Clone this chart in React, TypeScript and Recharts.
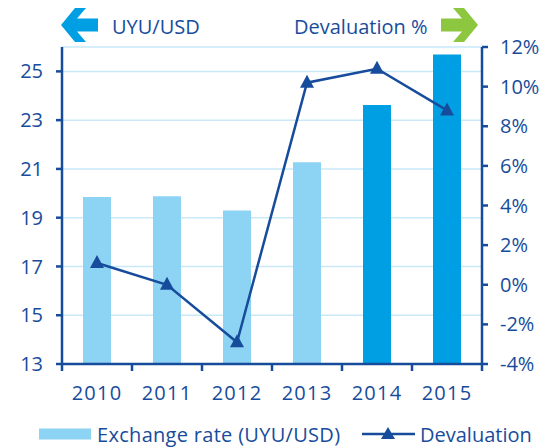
import React from "react";
import {
	ComposedChart,
	Bar,
	Line,
	Cell,
	XAxis,
	YAxis,
	CartesianGrid,
} from "recharts";

const years = ["2010", "2011", "2012", "2013", "2014", "2015"];
const exchangeRate = [19.85, 19.88, 19.29, 21.27, 23.62, 25.69];
const devaluation = [1.1, 0.0, -2.9, 10.2, 10.9, 8.8];
const rateTicks = [13, 15, 17, 19, 21, 23, 25];
const devalTicks = [-4, -2, 0, 2, 4, 6, 8, 10, 12];

const data = years.map((year, i) => ({
	year,
	rate: exchangeRate[i],
	deval: devaluation[i],
}));

const DARK = "#174c9c";
const LIGHT_BAR = "#8dd3f3";
const DARK_BAR = "#009fe3";
const GREEN = "#8dc63f";
const FONT = "'Open Sans', sans-serif";
const HALF_BAND = 35;

const Triangle = (props: any) => {
	const { cx, cy } = props;
	if (cx == null || cy == null) return null;
	return (
		<polygon
			points={`${cx},${cy - 8} ${cx - 7},${cy + 5} ${cx + 7},${cy + 5}`}
			fill={DARK}
		/>
	);
};

const YearTick = (props: any) => {
	const { x, y, payload, index, visibleTicksCount } = props;
	return (
		<g>
			<line x1={x - HALF_BAND} x2={x - HALF_BAND} y1={y} y2={y + 7} stroke={DARK} strokeWidth={2.5} />
			{index === visibleTicksCount - 1 && (
				<line x1={x + HALF_BAND} x2={x + HALF_BAND} y1={y} y2={y + 7} stroke={DARK} strokeWidth={2.5} />
			)}
			<text
				x={x}
				y={y + 28}
				textAnchor="middle"
				dominantBaseline="central"
				fill={DARK}
				fontSize={20}
				fontFamily={FONT}
				letterSpacing={1.2}
			>
				{payload.value}
			</text>
		</g>
	);
};

export default function App() {
	return (
		<div style={{ position: "absolute", left: 0, top: 0, width: 552, height: 448, background: "#fff", fontFamily: FONT }}>
			{/* header arrows + titles */}
			<svg width={552} height={50} style={{ position: "absolute", left: 0, top: 0 }}>
				<polygon
					points="61,25 75,8 86,8 77,18.5 98,18.5 98,31.5 77,31.5 86,42 75,42"
					fill={DARK_BAR}
				/>
				<text x={112} y={26} dominantBaseline="central" fill={DARK} fontSize={20} fontFamily={FONT}>
					UYU/USD
				</text>
				<text x={294} y={26} dominantBaseline="central" fill={DARK} fontSize={20} fontFamily={FONT}>
					Devaluation %
				</text>
				<polygon
					points="478,25 464,8 453,8 462,18.5 441,18.5 441,31.5 462,31.5 453,42 464,42"
					fill={GREEN}
				/>
			</svg>

			<ComposedChart
				width={552}
				height={448}
				data={data}
				margin={{ top: 47, right: 0, left: 0, bottom: 44 }}
				barCategoryGap={0}
			>
				<CartesianGrid yAxisId="left" vertical={false} stroke="#c9e9f8" strokeWidth={1.5} />
				<XAxis
					dataKey="year"
					height={40}
					axisLine={{ stroke: DARK, strokeWidth: 2.5 }}
					tickLine={false}
					tickSize={0}
					tickMargin={0}
					tick={<YearTick />}
					interval={0}
				/>
				<YAxis
					yAxisId="left"
					orientation="left"
					width={62}
					domain={[13, 26]}
					ticks={rateTicks}
					interval={0}
					axisLine={{ stroke: DARK, strokeWidth: 2.5 }}
					tickLine={{ stroke: DARK, strokeWidth: 2.5 }}
					tickSize={6}
					tickMargin={13}
					tick={{ fill: DARK, fontSize: 20, fontFamily: FONT }}
				/>
				<YAxis
					yAxisId="right"
					orientation="right"
					width={70}
					domain={[-4, 12]}
					ticks={devalTicks}
					interval={0}
					axisLine={{ stroke: DARK, strokeWidth: 2.5 }}
					tickLine={{ stroke: DARK, strokeWidth: 2.5 }}
					tickSize={6}
					tickMargin={12}
					tickFormatter={(v: number) => `${v}%`}
					tick={{ fill: DARK, fontSize: 20, fontFamily: FONT }}
				/>
				<Bar yAxisId="left" dataKey="rate" barSize={28} isAnimationActive={false}>
					{data.map((d, i) => (
						<Cell key={d.year} fill={i >= 4 ? DARK_BAR : LIGHT_BAR} />
					))}
				</Bar>
				<Line
					yAxisId="right"
					dataKey="deval"
					stroke={DARK}
					strokeWidth={2.5}
					dot={<Triangle />}
					activeDot={false}
					isAnimationActive={false}
				/>
			</ComposedChart>

			{/* legend */}
			<svg width={552} height={30} style={{ position: "absolute", left: 0, top: 419 }}>
				<rect x={39} y={9.5} width={52} height={11} fill={LIGHT_BAR} />
				<text x={97} y={15} dominantBaseline="central" fill={DARK} fontSize={20} fontFamily={FONT} letterSpacing={0.3}>
					Exchange rate (UYU/USD)
				</text>
				<line x1={362} x2={415} y1={15} y2={15} stroke={DARK} strokeWidth={2.5} />
				<polygon points="388,8 381,20 395,20" fill={DARK} />
				<text x={420} y={15} dominantBaseline="central" fill={DARK} fontSize={20} fontFamily={FONT}>
					Devaluation
				</text>
			</svg>
		</div>
	);
}
